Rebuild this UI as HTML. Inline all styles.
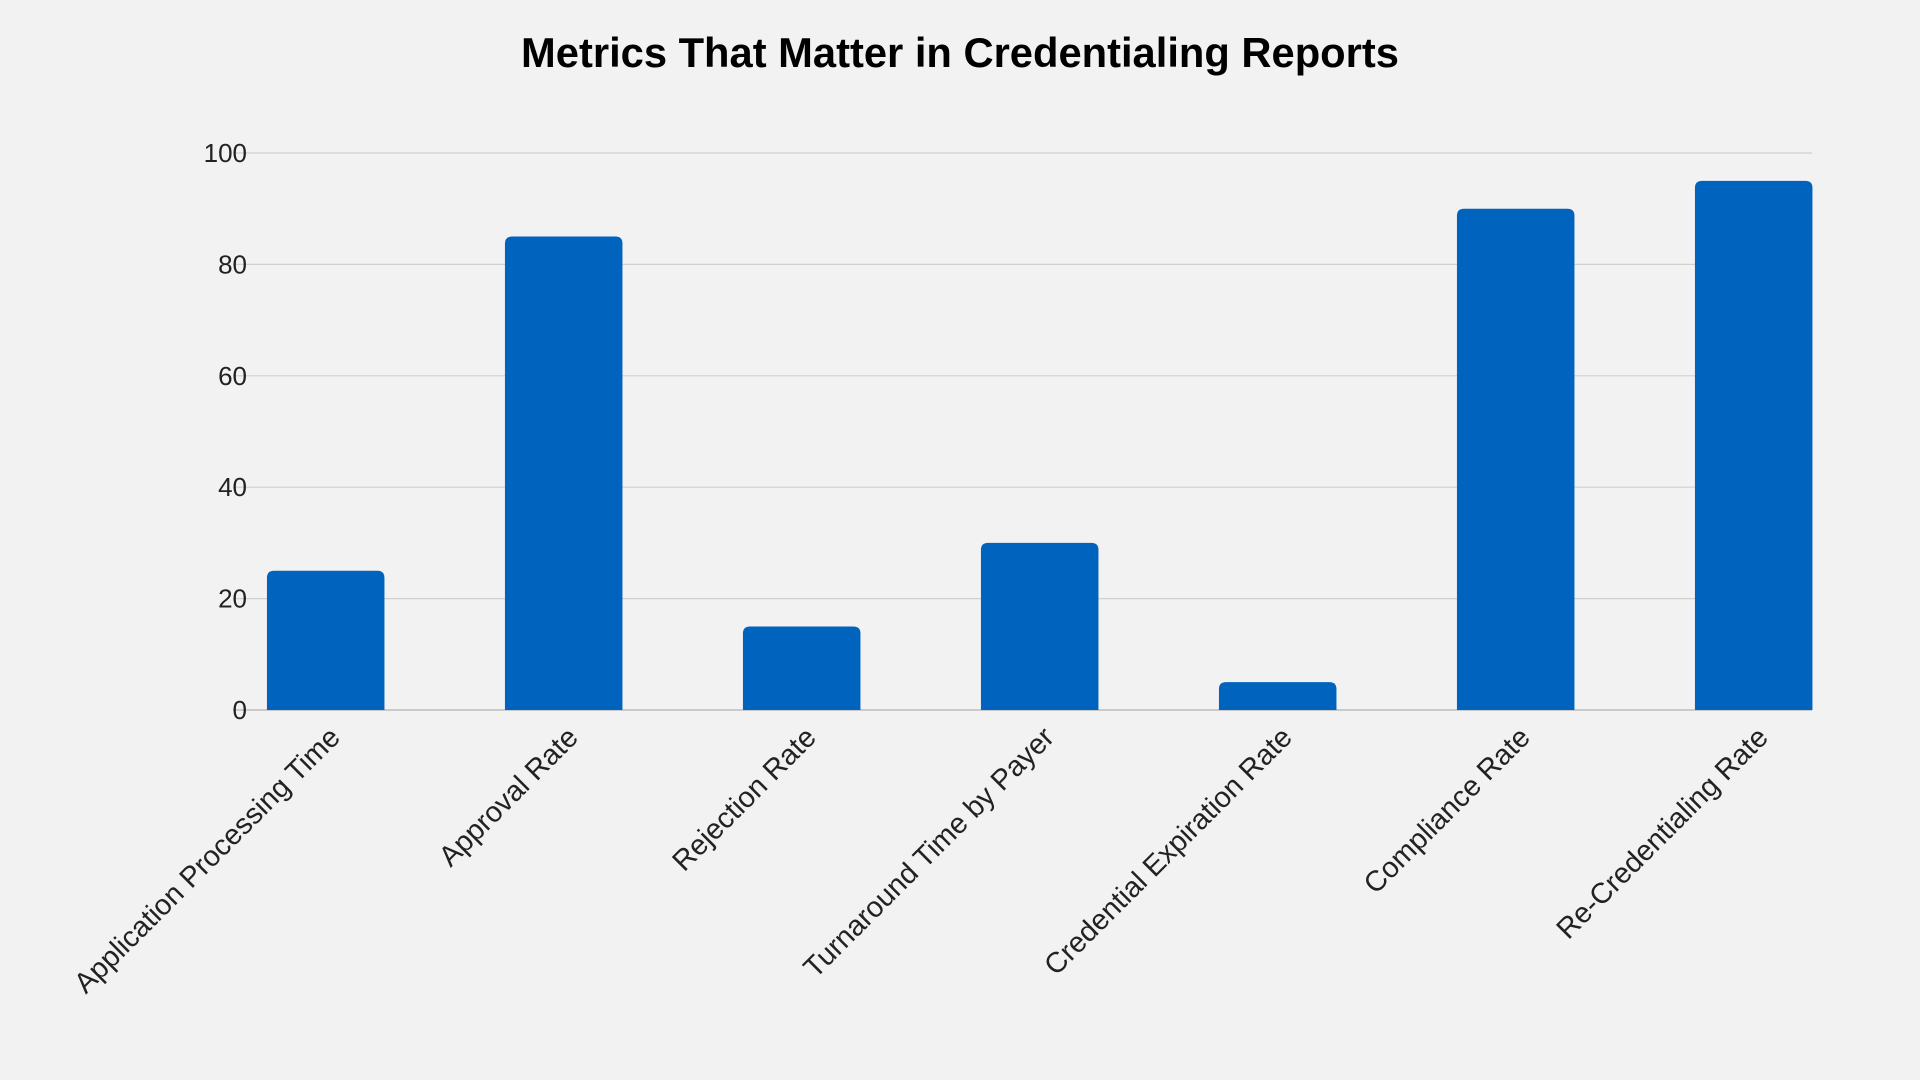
<!DOCTYPE html>
<html><head><meta charset="utf-8"><style>
html,body{margin:0;padding:0;background:#f2f2f2;}
svg{display:block;font-family:"Liberation Sans",sans-serif;}
</style></head><body>
<svg id="chart" width="1920" height="1080" viewBox="0 0 1920 1080">
<rect width="1920" height="1080" fill="#f2f2f2"/>
<text x="960" y="67" text-anchor="middle" font-size="41.7" font-weight="bold" fill="#000">Metrics That Matter in Credentialing Reports</text>
<g id="grid"></g><g id="bars"></g><g id="labels"></g>
</svg>
<script>
const categories = ["Application Processing Time","Approval Rate","Rejection Rate","Turnaround Time by Payer","Credential Expiration Rate","Compliance Rate","Re-Credentialing Rate"];
const values = [25,85,15,30,5,90,95];
const yTicks = [0,20,40,60,80,100];
const NS="http://www.w3.org/2000/svg";
const y0=710, y100=153, left=233, right=1812;
const yScale=v=>y0-(v/100)*(y0-y100);
const c0=325.7, step=238, bw=117.5;
const xScale=i=>c0+i*step;
const grid=document.getElementById('grid'), bars=document.getElementById('bars'), labels=document.getElementById('labels');
yTicks.forEach(t=>{
  const l=document.createElementNS(NS,'line');
  l.setAttribute('x1',left);l.setAttribute('x2',right);
  l.setAttribute('y1',yScale(t));l.setAttribute('y2',yScale(t));
  l.setAttribute('stroke',t===0?'#bdbdbd':'#d0d0d0');l.setAttribute('stroke-width',t===0?1.5:1.2);
  
  
  grid.appendChild(l);
  const tx=document.createElementNS(NS,'text');
  tx.setAttribute('x',247);tx.setAttribute('y',yScale(t)+9);
  tx.setAttribute('text-anchor','end');tx.setAttribute('font-size','26');tx.setAttribute('fill','#222');
  tx.textContent=t;
  
  
  grid.appendChild(tx);
});
values.forEach((v,i)=>{
  const x=xScale(i)-bw/2, y=yScale(v), h=y0-y, r=Math.min(7,h);
  const p=document.createElementNS(NS,'path');
  p.setAttribute('d',`M${x},${y0} L${x},${y+r} Q${x},${y} ${x+r},${y} L${x+bw-r},${y} Q${x+bw},${y} ${x+bw},${y+r} L${x+bw},${y0} Z`);
  p.setAttribute('fill','#0063be');
  
  
  bars.appendChild(p);
  const tx=document.createElementNS(NS,'text');
  const lx=xScale(i)+16, ly=y0+29;
  tx.setAttribute('x',lx);tx.setAttribute('y',ly);
  tx.setAttribute('text-anchor','end');tx.setAttribute('font-size','28.8');tx.setAttribute('fill','#222');
  tx.setAttribute('transform',`rotate(-45 ${lx} ${ly})`);
  tx.textContent=categories[i];
  
  
  labels.appendChild(tx);
});
</script>
</body></html>
